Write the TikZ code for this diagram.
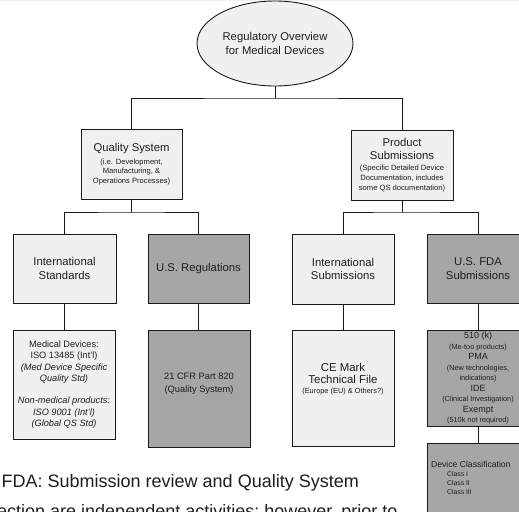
\documentclass[tikz,border=0pt]{standalone}
\usepackage{fontspec}
\setmainfont{Liberation Sans}
\usetikzlibrary{shapes.geometric}
\definecolor{boxlight}{HTML}{F0F0F0}
\definecolor{boxdark}{HTML}{A6A6A6}
\definecolor{edgecol}{HTML}{1A1A1A}
\definecolor{txtcol}{HTML}{1E1E1E}
\newcommand{\bigtxt}{\fontsize{11.3}{13.5}\selectfont}
\newcommand{\stxt}{\fontsize{7.6}{9.8}\selectfont}
\begin{document}
\begin{tikzpicture}[x=1pt,y=-1pt,
  box/.style={draw=edgecol, line width=0.9pt, inner sep=0pt, align=center, text=txtcol},
  lightbox/.style={box, fill=boxlight},
  darkbox/.style={box, fill=boxdark},
  conn/.style={draw=edgecol, line width=0.9pt},
  plain/.style={inner sep=0pt, text=txtcol}
]
\useasboundingbox (0,0) rectangle (519,511);
\clip (0,0) rectangle (519,511);
\fill[white] (0,0) rectangle (519,511);
\fill[gray!12] (0,0) rectangle (519,1.5);

% level 0
\node[box, ellipse, fill=boxlight, minimum width=156, minimum height=85, font=\bigtxt]
  (root) at (275,43.5) {Regulatory Overview\\for Medical Devices};

% level 1
\node[lightbox, minimum width=101, minimum height=70, font=\stxt] (qs) at (131.5,164)
  {{\bigtxt Quality System}\\[3.2pt](i.e. Development,\\Manufacturing, \&\\Operations Processes)};
\node[lightbox, minimum width=102, minimum height=70, font=\stxt] (ps) at (402,165)
  {{\bigtxt Product}\\[3.2pt]{\bigtxt Submissions}\\[2pt](Specific Detailed Device\\Documentation, includes\\some QS documentation)};

% level 2
\node[lightbox, minimum width=103, minimum height=69, font=\bigtxt] (is) at (64.5,268.5) {International\\Standards};
\node[darkbox, minimum width=101, minimum height=69, font=\bigtxt] (usr) at (198.5,268.5) {U.S. Regulations};
\node[lightbox, minimum width=102, minimum height=70, font=\bigtxt] (isub) at (343,269) {International\\Submissions};
\node[darkbox, minimum width=102, minimum height=69, font=\bigtxt] (fda) at (478,268.5) {U.S. FDA\\Submissions};

% level 3
\node[lightbox, minimum width=102, minimum height=109, font=\fontsize{9.2}{11.6}\selectfont] (md) at (64,384.5)
  {Medical Devices:\\ISO 13485 (Int'l)\\\textit{(Med Device Specific}\\\textit{Quality Std)}\\[10pt]\textit{Non-medical products:}\\\textit{ISO 9001 (Int'l)}\\\textit{(Global QS Std)}};
\node[darkbox, minimum width=102, minimum height=117] (cfr) at (199,388.5) {};
\node[plain, align=center, font=\fontsize{9.3}{13}\selectfont] (cfrt) at (199,384) {21 CFR Part 820\\(Quality System)};
\node[lightbox, minimum width=102, minimum height=116] (ce) at (343,388) {};
\node[plain, align=center, font=\fontsize{7.4}{9.5}\selectfont] (cet) at (343,379)
  {{\fontsize{11.4}{12}\selectfont CE Mark}\\[2.5pt]{\fontsize{11.4}{12}\selectfont Technical File}\\(Europe (EU) \& Others?)};
\node[darkbox, minimum width=102, minimum height=96, font=\fontsize{9}{10.5}\selectfont] (k510) at (478,378)
  {510 (k)\\{\fontsize{7.3}{10.5}\selectfont (Me-too products)}\\PMA\\{\fontsize{7.3}{10.5}\selectfont (New technologies,}\\{\fontsize{7.3}{10.5}\selectfont indications)}\\IDE\\{\fontsize{7.3}{10.5}\selectfont (Clinical Investigation)}\\Exempt\\{\fontsize{7.3}{10.5}\selectfont (510k not required)}};
\node[darkbox, minimum width=102, minimum height=114] (dc) at (478,500) {};
\node[plain, anchor=north west, align=left, font=\fontsize{8.6}{9}\selectfont] (dct) at (431,461.5)
  {Device Classification\\{\fontsize{6.8}{9}\selectfont\hspace*{16pt}Class I}\\{\fontsize{6.8}{9}\selectfont\hspace*{16pt}Class II}\\{\fontsize{6.8}{9}\selectfont\hspace*{16pt}Class III}};

% connectors
\coordinate (bar1) at (275,98);
\coordinate (bar2) at (131.5,212);
\coordinate (bar3) at (402,212);
\draw[conn] (root.south) -- (bar1);
\draw[conn] (qs.north) |- (bar1) -| (ps.north);
\draw[conn] (qs.south) -- (bar2);
\draw[conn] (is.north) |- (bar2) -| (usr.north);
\draw[conn] (ps.south) -- (bar3);
\draw[conn] (isub.north) |- (bar3) -| (fda.north);
\draw[conn] (is.south) -- (is.south |- md.north);
\draw[conn] (usr.south) -- (usr.south |- cfr.north);
\draw[conn] (isub.south) -- (ce.north);
\draw[conn] (fda.south) -- (k510.north);
\draw[conn] (k510.south) -- (dc.north);

% bottom text
\node[plain, anchor=base west, font=\fontsize{18}{21}\selectfont] (note1) at (1.5,487) {FDA: Submission review and Quality System};
\node[plain, anchor=base west, font=\fontsize{18}{21}\selectfont] (note2) at (-3,517.5) {ection are independent activities; however, prior to};
\end{tikzpicture}
\end{document}
